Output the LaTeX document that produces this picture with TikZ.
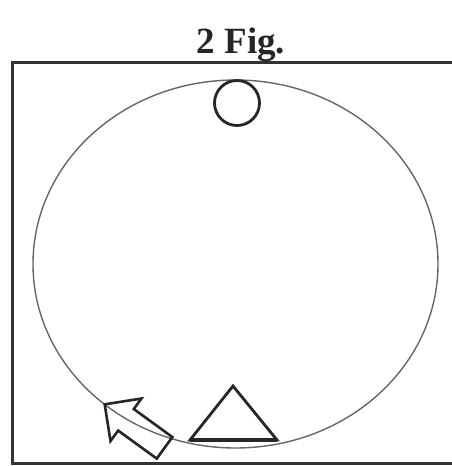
\documentclass[tikz,border=0pt]{standalone}
\usepackage{fontspec}
\setmainfont{Liberation Serif}
\usepackage{tikz}
\usetikzlibrary{shapes.geometric, shapes.arrows, positioning}

\begin{document}
\begin{tikzpicture}[
  x=1pt, y=-1pt,
  frameline/.style={draw=black!80, line width=3pt},
  bigring/.style={draw=black!60, line width=1.4pt},
  topring/.style={circle, draw=black!85, line width=2.8pt, minimum width=45pt, minimum height=42pt, inner sep=0pt},
  trimark/.style={draw=black!85, line width=2.8pt, line join=miter},
  hintarrow/.style={single arrow, draw=black!85, line width=2.6pt, inner sep=12pt, minimum height=74pt, single arrow head extend=13pt, shape border rotate=0},
  title/.style={font=\bfseries\fontsize{37}{40}\selectfont, text=black!85, inner sep=0pt}
]
  \useasboundingbox (0,0) rectangle (452,466);

  % caption and frame
  \node[title, anchor=base] (caption) at (241,53) {2 Fig.};
  \draw[frameline] (452,62) -- (12,62) -- (12,463) -- (452,463);

  % large ring
  \draw[bigring] (235.5,264) ellipse [x radius=202.5, y radius=184];

  % small ring at the top
  \node[topring] (ring) at (237,103) {};

  % triangle at the bottom
  \coordinate (apex) at (233,386);
  \coordinate (baseL) at (190,440);
  \coordinate (baseR) at (277,440);
  \draw[trimark] (baseL) -- (apex) -- (baseR) -- cycle;
  \draw[draw=black!85, line width=3.8pt] (baseL) -- (baseR);

  % hollow arrow
  \node[hintarrow, rotate=144] (hint) at (140,430) {};
\end{tikzpicture}
\end{document}
